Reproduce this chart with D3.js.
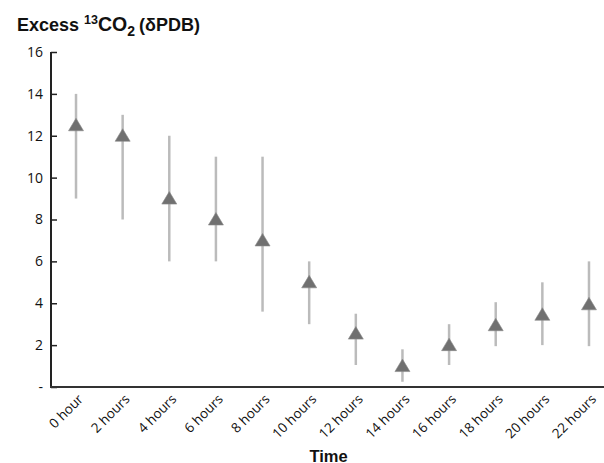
<!DOCTYPE html>
<html><head><meta charset="utf-8">
<script src="https://cdn.jsdelivr.net/npm/d3@7"></script>
<style>body{margin:0;background:#fff}svg{display:block}</style>
</head><body>
<svg id="c" width="604" height="463"></svg>
<script>
const categories = ["0 hour","2 hours","4 hours","6 hours","8 hours","10 hours","12 hours","14 hours","16 hours","18 hours","20 hours","22 hours"];
const means = [12.5, 12, 9, 8, 7, 5, 2.55, 1, 2, 2.95, 3.45, 3.95];
const upper = [14, 13, 12, 11, 11, 6, 3.5, 1.8, 3, 4.05, 5, 6];
const lower = [9, 8, 6, 6, 3.6, 3, 1.05, 0.25, 1.05, 1.95, 2, 1.95];
const yTicks = [0, 2, 4, 6, 8, 10, 12, 14, 16];
const yTickLabels = ["-", "2", "4", "6", "8", "10", "12", "14", "16"];

const svg = d3.select("#c");
const x = d3.scaleBand().domain(categories).range([52.7, 612.3]);
const y = d3.scaleLinear().domain([0, 16]).range([387, 52]);

// error bars
svg.append("g").selectAll("line").data(categories).join("line")
  .attr("x1", d => x(d) + x.bandwidth()/2).attr("x2", d => x(d) + x.bandwidth()/2)
  .attr("y1", (d,i) => y(upper[i])).attr("y2", (d,i) => y(lower[i]))
  .attr("stroke", "#bbbbbb").attr("stroke-width", 2.5);

// triangles
svg.append("g").selectAll("path").data(categories).join("path")
  .attr("d", "M0,-7L7.5,5.5L-7.5,5.5Z")
  .attr("transform", (d,i) => `translate(${x(d) + x.bandwidth()/2},${y(means[i])})`)
  .attr("fill", "#707070").attr("stroke", "#8a8a8a").attr("stroke-width", 0.6);

// y axis
const yAxis = d3.axisLeft(y).tickValues(yTicks).tickFormat((d,i) => yTickLabels[i]).tickSize(-6).tickSizeOuter(0);
const gy = svg.append("g").attr("transform", "translate(51,0)").call(yAxis);
gy.select(".domain").attr("stroke", "#222").attr("stroke-width", 2).attr("d", `M0,${y(16)}V${y(0)}`);
gy.selectAll(".tick line").attr("stroke", "#222").attr("stroke-width", 1.5);
gy.selectAll(".tick text").attr("font-family", "'Open Sans', sans-serif").attr("font-size", 14).attr("fill", "#111").attr("x", -8);

// x axis
const xAxis = d3.axisBottom(x).tickSize(0).tickSizeOuter(0);
const gx = svg.append("g").attr("transform", `translate(0,${y(0)})`).call(xAxis);
gx.select(".domain").attr("stroke", "#333").attr("stroke-width", 2.2).attr("d", "M50,0H604");
gx.selectAll(".tick text")
  .attr("font-family", "'Open Sans', sans-serif").attr("font-size", 13.5).attr("fill", "#111")
  .attr("text-anchor", "end").attr("dy", 0).attr("y", 0)
  .attr("transform", "translate(8,13) rotate(-45)");

// title
const t = svg.append("text").attr("x", 17).attr("y", 31)
  .attr("font-family", "'Liberation Sans', Arial, sans-serif").attr("font-weight", "bold").attr("font-size", 18).attr("fill", "#111");
t.append("tspan").text("Excess ");
t.append("tspan").attr("font-size", 12.5).attr("dy", -7).text("13");
t.append("tspan").attr("dy", 7).attr("font-size", 19.5).text("CO");
t.append("tspan").attr("font-size", 14).attr("dy", 5).text("2");
t.append("tspan").attr("dy", -5).attr("dx", 4).text("(δPDB)");

// x title
svg.append("text").attr("x", 328.5).attr("y", 461.5).attr("text-anchor", "middle")
  .attr("font-family", "'Liberation Sans', Arial, sans-serif").attr("font-weight", "bold").attr("font-size", 16.5).attr("fill", "#111")
  .text("Time");
</script>
</body></html>
